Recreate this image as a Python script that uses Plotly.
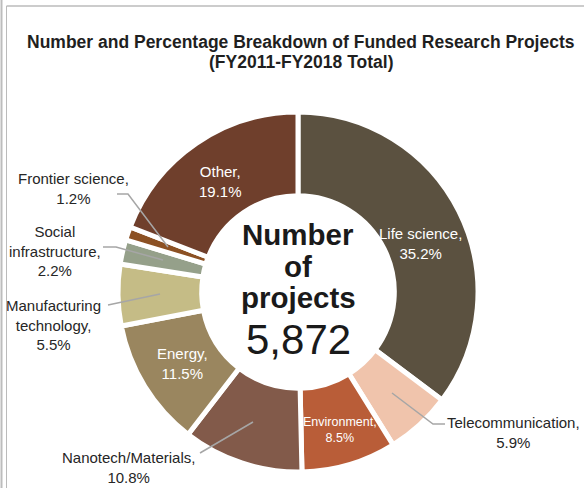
import plotly.graph_objects as go

W, H = 584, 488

categories = ['Life science', 'Telecommunication', 'Environment', 'Nanotech/Materials',
              'Energy', 'Manufacturing technology', 'Social infrastructure',
              'Frontier science', 'Other']
percent = [35.2, 5.9, 8.5, 10.8, 11.5, 5.5, 2.2, 1.2, 19.1]
total_projects = 5872
colors = ['#5B5140', '#F0C4AC', '#B95D38', '#825A4A', '#9A865F',
          '#C5BC86', '#95A08A', '#8C5124', '#6F3F2C']

# label text as it is broken over lines in the original
label_lines = {
    'Life science': 'Life science,',
    'Telecommunication': 'Telecommunication,',
    'Environment': 'Environment,',
    'Nanotech/Materials': 'Nanotech/Materials,',
    'Energy': 'Energy,',
    'Manufacturing technology': 'Manufacturing<br>technology,',
    'Social infrastructure': 'Social<br>infrastructure,',
    'Frontier science': 'Frontier science,',
    'Other': 'Other,',
}

# label placement in pixels: (x, y of first line, inside?, font size)
label_pos = {
    'Life science': (420, 233, True, 15),
    'Other': (220, 171, True, 15),
    'Energy': (182, 353, True, 15),
    'Environment': (340, 423, True, 12.5),
    'Telecommunication': (513, 422, False, 15),
    'Nanotech/Materials': (128, 457, False, 15),
    'Manufacturing technology': (53, 305, False, 15),
    'Social infrastructure': (55, 231, False, 15),
    'Frontier science': (73, 178, False, 15),
}

# leader lines in pixels
leaders = {
    'Frontier science': [(117, 194), (128, 194), (168, 247)],
    'Social infrastructure': [(103, 247), (116, 247), (163, 260)],
    'Manufacturing technology': [(108, 305), (160, 294)],
    'Nanotech/Materials': [(200, 453), (253, 422)],
    'Telecommunication': [(445, 424), (433, 424), (392, 393)],
}


def px(x):
    return x / W


def py(y):
    return 1 - y / H


FONT = 'Liberation Sans, Arial'
cx, cy, R = 298, 292, 180
fig = go.Figure(go.Pie(
    labels=categories, values=percent, sort=False, direction='clockwise', rotation=0,
    hole=0.535, textinfo='none', hoverinfo='label+percent',
    marker=dict(colors=colors, line=dict(color='white', width=5)),
    domain=dict(x=[px(cx - R), px(cx + R)], y=[py(cy + R), py(cy - R)]),
    showlegend=False,
))

annotations = []
for name, pct in zip(categories, percent):
    x, y, inside, fs = label_pos[name]
    annotations.append(dict(
        x=px(x), y=py(y - 10), xref='paper', yref='paper', xanchor='center', yanchor='top',
        text=label_lines[name] + '<br>' + f'{pct:.1f}%', showarrow=False, align='center',
        font=dict(size=fs, color='white' if inside else '#262626', family=FONT),
    ))

annotations += [
    dict(x=0.515, y=py(30), xref='paper', yref='paper', showarrow=False,
         text='<b>Number and Percentage Breakdown of Funded Research Projects</b>',
         font=dict(size=17.5, color='#1f1f1f', family=FONT), xanchor='center'),
    dict(x=0.515, y=py(50), xref='paper', yref='paper', showarrow=False,
         text='<b>(FY2011-FY2018 Total)</b>',
         font=dict(size=17.5, color='#1f1f1f', family=FONT), xanchor='center'),
]
for txt, yy in [('Number', 234), ('of', 266), ('projects', 297)]:
    annotations.append(dict(x=px(cx), y=py(yy), xref='paper', yref='paper', showarrow=False,
                            text=f'<b>{txt}</b>', xanchor='center', yanchor='middle',
                            font=dict(size=29.5, color='#1a1a1a', family=FONT)))
annotations.append(dict(x=px(cx), y=py(339), xref='paper', yref='paper', showarrow=False,
                        text=f'{total_projects:,}', xanchor='center', yanchor='middle',
                        font=dict(size=42, color='#1a1a1a', family=FONT)))

shapes = []
for name, pts in leaders.items():
    path = 'M ' + ' L '.join(f'{px(x)},{py(y)}' for x, y in pts)
    shapes.append(dict(type='path', path=path, xref='paper', yref='paper',
                       line=dict(color='#A6A6A6', width=1.5)))

# chart frame
frame = dict(type='line', xref='paper', yref='paper')
shapes.append(dict(frame, x0=px(1.5), x1=px(1.5), y0=0, y1=1,
                   line=dict(color='#BDBDBD', width=2)))
shapes.append(dict(frame, x0=px(6.5), x1=px(6.5), y0=0, y1=py(6),
                   line=dict(color='#BBBBBB', width=1)))
shapes.append(dict(frame, x0=px(6.5), x1=1, y0=py(6), y1=py(6),
                   line=dict(color='#BBBBBB', width=1.5)))

fig.update_layout(
    width=W, height=H, margin=dict(l=0, r=0, t=0, b=0),
    paper_bgcolor='white', plot_bgcolor='white',
    annotations=annotations, shapes=shapes,
)
fig.write_html("out.html", config={'displayModeBar': False},
               post_script="document.body.style.margin='0px';")
